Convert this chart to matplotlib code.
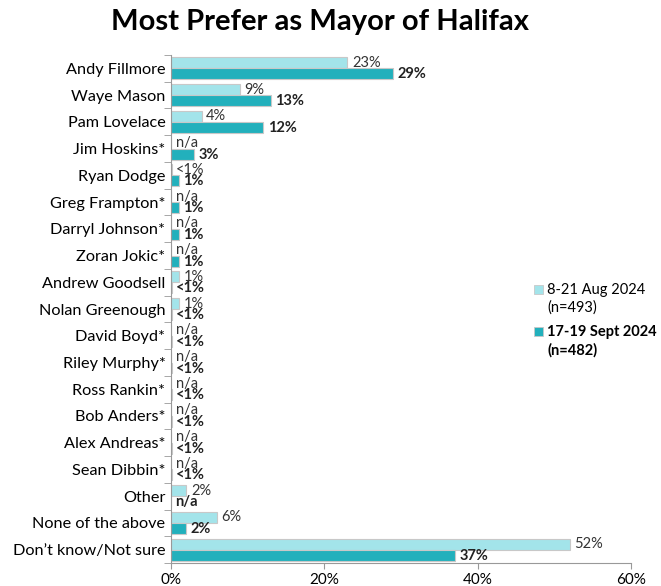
import matplotlib.pyplot as plt
from matplotlib.patches import Rectangle
import numpy as np

plt.rcParams['font.family'] = ['Lato', 'DejaVu Sans']

# 候選人與兩次調查結果（None = n/a）
candidates = ["Andy Fillmore", "Waye Mason", "Pam Lovelace", "Jim Hoskins*",
              "Ryan Dodge", "Greg Frampton*", "Darryl Johnson*", "Zoran Jokic*",
              "Andrew Goodsell", "Nolan Greenough", "David Boyd*", "Riley Murphy*",
              "Ross Rankin*", "Bob Anders*", "Alex Andreas*", "Sean Dibbin*",
              "Other", "None of the above", "Don\u2019t know/Not sure"]
aug = [23, 9, 4, None, 0.1, None, None, None, 1, 1,
       None, None, None, None, None, None, 2, 6, 52]
sept = [29, 13, 12, 3, 1, 1, 1, 1, 0.1, 0.1,
        0.1, 0.1, 0.1, 0.1, 0.1, 0.1, None, 2, 37]
series_names = [("8-21 Aug 2024", "(n=493)"), ("17-19 Sept 2024", "(n=482)")]
x_ticks = [0, 20, 40, 60]

light = '#a3e4ea'
dark = '#22b0bc'
edge = '#c8c8c8'


def lab(v):
    if v is None:
        return "n/a"
    if v < 1:
        return "<1%"
    return f"{v:.0f}%"


fig = plt.figure(figsize=(6.61, 5.86), dpi=100)
ax = fig.add_axes([0.2587, 0.0392, 0.6959, 0.8669])

y = np.arange(len(candidates))
h = 0.41
aug_w = [0 if v is None else v for v in aug]
sept_w = [0 if v is None else v for v in sept]

ax.barh(y - h / 2, aug_w, height=h, color=light, edgecolor=edge, linewidth=0.8)
ax.barh(y + h / 2, sept_w, height=h, color=dark, edgecolor=edge, linewidth=0.8)

# 數值標籤
for i in range(len(candidates)):
    ax.text(aug_w[i] + 0.6, y[i] - h / 2, lab(aug[i]), va='center', ha='left',
            fontsize=10.5, color='#333333')
    ax.text(sept_w[i] + 0.6, y[i] + h / 2 + 0.02, lab(sept[i]), va='center', ha='left',
            fontsize=10.5, fontweight='bold', color='#222222')

ax.set_ylim(len(candidates) - 0.5, -0.5)
ax.set_xlim(0, 60)
ax.set_yticks(y)
ax.set_yticklabels(candidates, fontsize=11.7)
ax.set_yticks(np.arange(-0.5, len(candidates)), minor=True)
ax.tick_params(axis='y', which='major', length=0, pad=4)
ax.tick_params(axis='y', which='minor', length=5, color='#999999')
ax.set_xticks(x_ticks)
ax.set_xticklabels([f"{t}%" for t in x_ticks], fontsize=11)
ax.tick_params(axis='x', length=4, color='#999999', pad=3)

for s in ['top', 'right']:
    ax.spines[s].set_visible(False)
for s in ['left', 'bottom']:
    ax.spines[s].set_color('#999999')

fig.text(0.484, 1 - 22 / 586, "Most Prefer as Mayor of Halifax", ha='center', va='center',
         fontsize=21, fontweight='bold')

# 圖例（手動排版，方塊對齊第一行）
W, H = 661, 586
for (l1, l2), col, top, bold in [(series_names[0], light, 285, 'normal'),
                                 (series_names[1], dark, 327, 'bold')]:
    fig.patches.append(Rectangle((534 / W, 1 - (top + 9) / H), 9 / W, 9 / H,
                                 transform=fig.transFigure, facecolor=col,
                                 edgecolor=edge, linewidth=0.6))
    fig.text(547 / W, 1 - (top + 5) / H, l1, ha='left', va='center', fontsize=10.5,
             fontweight=bold)
    fig.text(547 / W, 1 - (top + 23) / H, l2, ha='left', va='center', fontsize=10.5,
             fontweight=bold)

fig.savefig('out.png', dpi=100)
